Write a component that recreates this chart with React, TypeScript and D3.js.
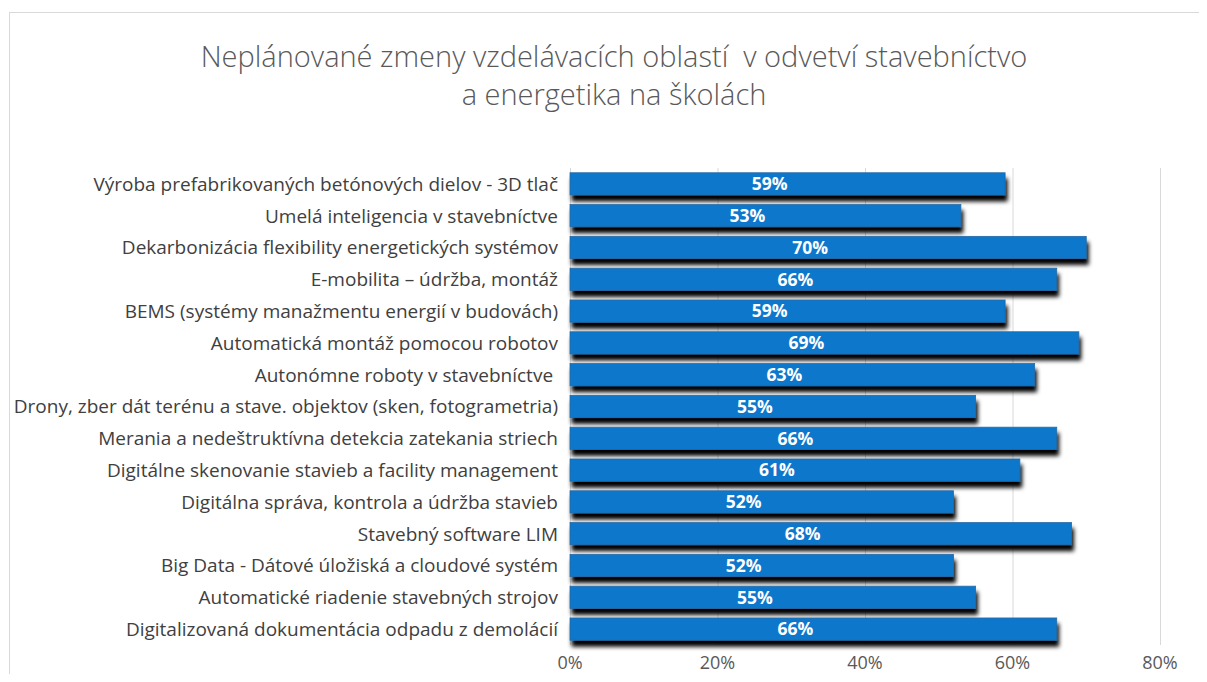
import React, { useEffect, useRef } from 'react';
import * as d3 from 'd3';

const categories = [
  'Výroba prefabrikovaných betónových dielov - 3D tlač',
  'Umelá inteligencia v stavebníctve',
  'Dekarbonizácia flexibility energetických systémov',
  'E-mobilita – údržba, montáž',
  'BEMS (systémy manažmentu energií v budovách)',
  'Automatická montáž pomocou robotov',
  'Autonómne roboty v stavebníctve ',
  'Drony, zber dát terénu a stave. objektov (sken, fotogrametria)',
  'Merania a nedeštruktívna detekcia zatekania striech',
  'Digitálne skenovanie stavieb a facility management',
  'Digitálna správa, kontrola a údržba stavieb',
  'Stavebný software LIM',
  'Big Data - Dátové úložiská a cloudové systém',
  'Automatické riadenie stavebných strojov',
  'Digitalizovaná dokumentácia odpadu z demolácií',
];
const values = [0.59, 0.53, 0.70, 0.66, 0.59, 0.69, 0.63, 0.55, 0.66, 0.61, 0.52, 0.68, 0.52, 0.55, 0.66];
const ticks = [0, 0.2, 0.4, 0.6, 0.8];
const titleLines = ['Neplánované zmeny vzdelávacích oblastí  v odvetví stavebníctvo', 'a energetika na školách'];

const W = 1207;
const H = 682;

const App: React.FC = () => {
  const svgRef = useRef<SVGSVGElement>(null);

  useEffect(() => {
    if (!svgRef.current) return;
    const svg = d3.select(svgRef.current);
    svg.selectAll('*').remove();

    const font = '"Open Sans", "Noto Sans", sans-serif';
    const left = 570, right = 1160, top = 168, bottom = 645;

    const x = d3.scaleLinear().domain([0, 0.8]).range([left, right]);
    const y = d3.scaleBand<string>().domain(categories).range([top, bottom]).paddingInner(0.3).paddingOuter(0.15);

    const defs = svg.append('defs');
    const f = defs.append('filter').attr('id', 'shadow')
      .attr('x', '-5%').attr('y', '-50%').attr('width', '110%').attr('height', '200%');
    f.append('feDropShadow').attr('dx', 2).attr('dy', 6).attr('stdDeviation', 2)
      .attr('flood-color', '#000').attr('flood-opacity', 1);

    svg.append('rect').attr('width', W).attr('height', H).attr('fill', '#fff');
    svg.append('rect').attr('x', 9.5).attr('y', 12.5).attr('width', 1220).attr('height', 700)
      .attr('fill', 'none').attr('stroke', '#d9d9d9');

    // title
    svg.append('text')
      .attr('x', 614).attr('y', 67)
      .attr('text-anchor', 'middle')
      .style('font-family', font).style('font-size', '29px').style('font-weight', 300).style('fill', '#595959')
      .style('white-space', 'pre')
      .selectAll('tspan').data(titleLines).join('tspan')
      .attr('x', 614).attr('dy', (_, i) => (i === 0 ? 0 : 38))
      .text(d => d);

    // gridlines
    svg.append('g').selectAll('line').data(ticks.slice(1)).join('line')
      .attr('x1', d => x(d) + 0.5).attr('x2', d => x(d) + 0.5)
      .attr('y1', top).attr('y2', bottom)
      .attr('stroke', '#d9d9d9');

    svg.append('line').attr('x1', left + 0.5).attr('x2', left + 0.5)
      .attr('y1', top).attr('y2', bottom).attr('stroke', '#d9d9d9');

    // x tick labels
    svg.append('g').selectAll('text').data(ticks).join('text')
      .attr('x', d => x(d)).attr('y', 669)
      .attr('text-anchor', 'middle')
      .style('font-family', font).style('font-size', '18px').style('fill', '#595959')
      .text(d => d3.format('.0%')(d));

    // bars
    svg.append('g').selectAll('rect').data(values).join('rect')
      .attr('x', x(0)).attr('y', (_, i) => y(categories[i])!)
      .attr('width', d => x(d) - x(0)).attr('height', y.bandwidth())
      .attr('fill', '#0877cc').attr('stroke', '#2a6aa3').attr('stroke-width', 0.8)
      .attr('filter', 'url(#shadow)');

    // value labels
    svg.append('g').selectAll('text').data(values).join('text')
      .attr('x', d => x(d / 2) - 18)
      .attr('y', (_, i) => y(categories[i])! + y.bandwidth() / 2)
      .attr('dy', '0.36em')
      .attr('text-anchor', 'middle')
      .style('font-family', font).style('font-size', '17.5px').style('font-weight', 'bold').style('fill', '#fff')
      .text(d => d3.format('.0%')(d));

    // category labels
    svg.append('g').selectAll('text').data(categories).join('text')
      .attr('x', 558)
      .attr('y', d => y(d)! + y.bandwidth() / 2)
      .attr('dy', '0.36em')
      .attr('text-anchor', 'end')
      .style('font-family', font).style('font-size', '19px').style('fill', '#404040')
      .style('white-space', 'pre')
      .text(d => d);
  }, []);

  return (
    <div style={{ margin: -8 }}>
      <svg ref={svgRef} width={W} height={H} style={{ display: 'block' }} />
    </div>
  );
};

export default App;
